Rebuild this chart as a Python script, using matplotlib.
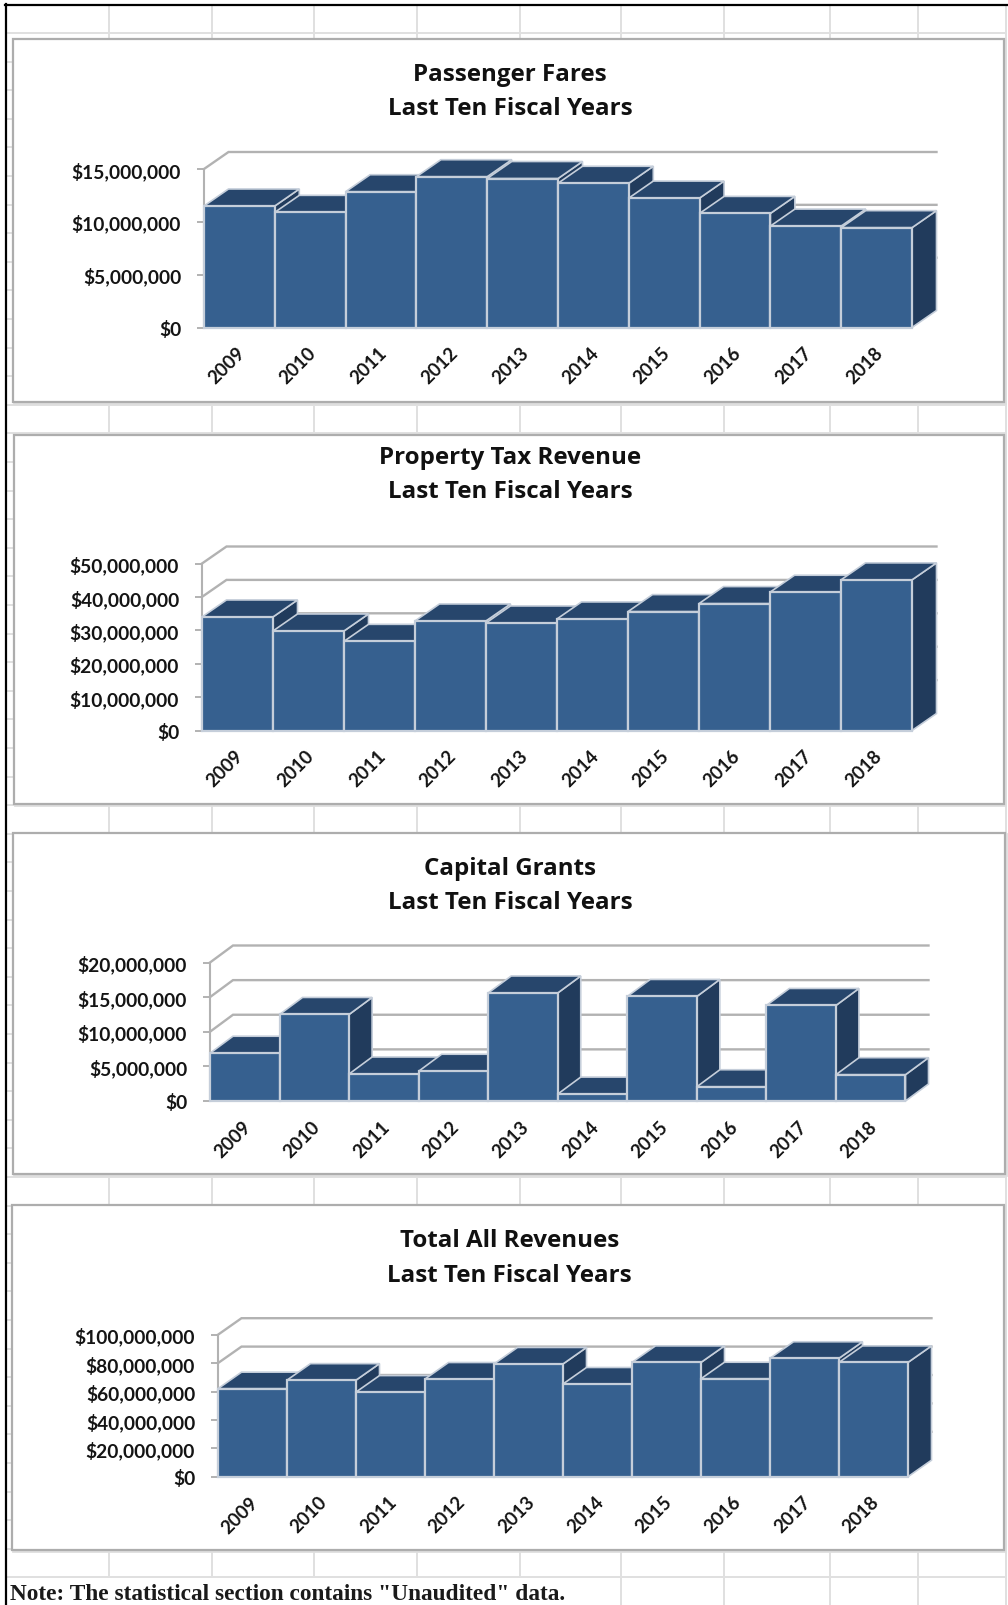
#importing modules
import numpy as np
import matplotlib
matplotlib.use('Agg')
import matplotlib.pyplot as plt
from matplotlib.patches import Polygon, Rectangle
from matplotlib.transforms import ScaledTranslation

W, H = 1008, 1606
years = ['2009', '2010', '2011', '2012', '2013', '2014', '2015', '2016', '2017', '2018']

#values
fares = [11500000, 10900000, 12850000, 14270000, 14100000, 13650000, 12250000, 10800000, 9600000, 9450000]
property_tax = [34000000, 29800000, 26700000, 32800000, 32200000, 33400000, 35600000, 38000000, 41400000, 45100000]
grants = [6900000, 12500000, 3900000, 4300000, 15600000, 1000000, 15100000, 2060000, 13800000, 3800000]
total = [62000000, 68000000, 59600000, 68800000, 79400000, 65300000, 80500000, 69000000, 83400000, 80500000]

fares_ticks = [0, 5000000, 10000000, 15000000]
tax_ticks = [0, 10000000, 20000000, 30000000, 40000000, 50000000]
grant_ticks = [0, 5000000, 10000000, 15000000, 20000000]
total_ticks = [0, 20000000, 40000000, 60000000, 80000000, 100000000]

subtitle = 'Last Ten Fiscal Years'
note = 'Note: The statistical section contains "Unaudited" data.'

FRONT = '#36608f'
TOP = '#27466c'
SIDE = '#213b5c'
EDGE = '#c5ceda'
WALL = '#b2b2b2'
FRAME = '#adadad'
CELL = '#e0e0e0'

fig = plt.figure(figsize=(W / 100, H / 100), dpi=100, facecolor='white')

#sheet background, in pixel coordinates
bg = fig.add_axes([0, 0, 1, 1])
bg.set_xlim(0, W)
bg.set_ylim(H, 0)
bg.axis('off')
for y in np.arange(34, H, 28.6):
    bg.plot([6, 1006], [y, y], color=CELL, lw=1.4, zorder=1)
for x in [109, 212, 314, 417, 520, 621, 724, 830, 918, 1006]:
    bg.plot([x, x], [6, H], color=CELL, lw=1.4, zorder=1)
bg.add_patch(Rectangle((6, 1579), 614, 27, fc='white', ec='none', zorder=2))
bg.plot([5.5, 5.5], [5, H], color='black', lw=1.6, zorder=6)
bg.plot([5, W], [5.5, 5.5], color='black', lw=1.6, zorder=6)
bg.text(10, 1600, note, family='Liberation Serif', weight='bold', fontsize=16.8,
        color='#1a1a1a', ha='left', va='baseline', zorder=6)


def panel(frame, title, title_y, front, values, ticks, depth):
    left, right, top, bottom = frame
    bg.add_patch(Rectangle((left + 1, top + 1), right - left, bottom - top, fc='none', ec='#dedede', lw=2, zorder=3))
    bg.add_patch(Rectangle((left, top), right - left, bottom - top, fc='white', ec=FRAME, lw=1.6, zorder=4))
    mid = (left + right) / 2 + 1.5
    bg.text(mid, title_y[0], title, family='Open Sans', weight='bold', fontsize=17.4, color='#111111',
            ha='center', va='center', zorder=6)
    bg.text(mid, title_y[1], subtitle, family='Open Sans', weight='bold', fontsize=17.4, color='#111111',
            ha='center', va='center', zorder=6)

    #axes sits exactly on the front plane of the bars
    x0, x1, y_max_px, y0 = front
    ax = fig.add_axes([x0 / W, 1 - y0 / H, (x1 - x0) / W, (y0 - y_max_px) / H])
    ax.patch.set_alpha(0)
    ax.set_xlim(-0.5, 9.5)
    ax.set_ylim(0, ticks[-1])
    dx = depth[0] / (x1 - x0) * 10
    dy = depth[1] / (y0 - y_max_px) * ticks[-1]

    #walls
    for t in ticks[1:]:
        ax.plot([-0.5, -0.5 + dx, 9.5 + dx], [t, t + dy, t + dy], color=WALL, lw=1.7,
                clip_on=False, zorder=1, solid_joinstyle='miter')

    for i, v in enumerate(values):
        z = 5 + i
        ax.add_patch(Polygon([(i + 0.5, 0), (i + 0.5 + dx, dy), (i + 0.5 + dx, v + dy), (i + 0.5, v)],
                             fc=SIDE, ec=EDGE, lw=1.2, clip_on=False, zorder=z))
        ax.add_patch(Polygon([(i - 0.5, v), (i - 0.5 + dx, v + dy), (i + 0.5 + dx, v + dy), (i + 0.5, v)],
                             fc=TOP, ec=EDGE, lw=1.2, clip_on=False, zorder=z))
        ax.bar(i, v, width=1, color=FRONT, edgecolor=EDGE, lw=1.6, clip_on=False, zorder=z)

    for s in ['top', 'right', 'bottom']:
        ax.spines[s].set_visible(False)
    ax.spines['left'].set_color(WALL)
    ax.spines['left'].set_linewidth(1.5)

    ax.set_xticks(range(10))
    ax.set_xticklabels(years, family='Lato', weight='bold', fontsize=13.4, color='#141414',
                       rotation=45, ha='right', va='center', rotation_mode='anchor')
    ax.tick_params(axis='x', length=0, pad=16)
    #year labels sit a little right of the bar centre
    nudge = ScaledTranslation(3 / 100, 0, fig.dpi_scale_trans)
    for lab in ax.get_xticklabels():
        lab.set_transform(lab.get_transform() + nudge)
    ax.set_yticks(ticks)
    ax.set_yticklabels(['$' + format(t, ',d') for t in ticks], family='Lato', weight='bold',
                       fontsize=13.8, color='#141414')
    ax.tick_params(axis='y', length=5, width=1.4, color=WALL, pad=11.5)
    return ax


panel((13, 1004, 40, 403), 'Passenger Fares', (75, 109), (204, 912, 170, 328.5), fares, fares_ticks, (24.5, 17))
panel((14, 1004, 436, 805), 'Property Tax Revenue', (458, 492), (202, 912, 564.5, 731.5), property_tax, tax_ticks, (24.5, 17))
panel((13, 1005, 834, 1175), 'Capital Grants', (869, 903), (210, 905.5, 963.5, 1102), grants, grant_ticks, (23, 17))
panel((12, 1004, 1206, 1551), 'Total All Revenues', (1241, 1276), (218, 908, 1335.7, 1477.7), total, total_ticks, (23.5, 16.5))

fig.savefig('out.png', dpi=100)
